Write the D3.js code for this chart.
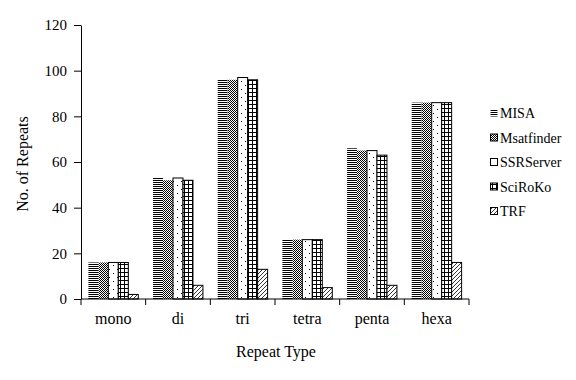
<!DOCTYPE html>
<html><head><meta charset="utf-8">
<script src="https://cdn.jsdelivr.net/npm/d3@7"></script>
<style>body{margin:0;background:#fff}svg text{font-family:"Liberation Serif","Times New Roman",serif !important;fill:#000}</style>
</head><body>
<svg id="c" width="576" height="380" font-family="Liberation Serif"></svg>
<script>
const categories = ["mono","di","tri","tetra","penta","hexa"];
const seriesNames = ["MISA","Msatfinder","SSRServer","SciRoKo","TRF"];
const MISA       = [16, 53, 96, 26, 66, 86];
const Msatfinder = [16, 52, 96, 26, 65, 86];
const SSRServer  = [16, 53, 97, 26, 65, 86];
const SciRoKo    = [16, 52, 96, 26, 63, 86];
const TRF        = [2, 6, 13, 5, 6, 16];
const yTicks = [0,20,40,60,80,100,120];
const seriesValues = [MISA, Msatfinder, SSRServer, SciRoKo, TRF];

(function(){
const FF = "'Liberation Serif', 'Times New Roman', serif";
const svg = d3.select("#c");
const defs = svg.append("defs");
const p1 = defs.append("pattern").attr("id","pMISA").attr("patternUnits","userSpaceOnUse").attr("width",4).attr("height",2);
p1.append("rect").attr("width",4).attr("height",2).attr("fill","#fff");
p1.append("rect").attr("width",4).attr("height",1).attr("fill","#000");
const p2 = defs.append("pattern").attr("id","pMsat").attr("patternUnits","userSpaceOnUse").attr("width",2).attr("height",2);
p2.append("rect").attr("width",2).attr("height",2).attr("fill","#fff");
p2.append("rect").attr("width",1).attr("height",1).attr("fill","#000");
p2.append("rect").attr("x",1).attr("y",1).attr("width",1).attr("height",1).attr("fill","#000");
const p3 = defs.append("pattern").attr("id","pSSR").attr("patternUnits","userSpaceOnUse").attr("width",8).attr("height",8);
p3.append("rect").attr("width",8).attr("height",8).attr("fill","#fff");
p3.append("rect").attr("x",1).attr("y",1).attr("width",1).attr("height",1).attr("fill","#000");
p3.append("rect").attr("x",5).attr("y",5).attr("width",1).attr("height",1).attr("fill","#000");
const p4 = defs.append("pattern").attr("id","pSci").attr("patternUnits","userSpaceOnUse").attr("width",4).attr("height",4);
p4.append("rect").attr("width",4).attr("height",4).attr("fill","#fff");
p4.append("rect").attr("width",4).attr("height",1).attr("fill","#000");
p4.append("rect").attr("width",1).attr("height",4).attr("fill","#000");
const p5 = defs.append("pattern").attr("id","pTRF").attr("patternUnits","userSpaceOnUse").attr("width",4).attr("height",4);
p5.append("rect").attr("width",4).attr("height",4).attr("fill","#fff");
p5.append("path").attr("d","M-1,1 L1,-1 M0,4 L4,0 M3,5 L5,3").attr("stroke","#000").attr("stroke-width",0.8);
const fills = ["url(#pMISA)","url(#pMsat)","url(#pSSR)","url(#pSci)","url(#pTRF)"];
const strokes = [null, null, "#000", "#000", "#000"];
const legendStrokes = [null, "#000", "#000", "#000", "#000"];

const L = 81, R = 469, T = 25, B = 299;
const x = d3.scaleBand().domain(categories).range([L, R]).padding(0);
const xs = d3.scaleBand().domain(seriesNames).range([0, x.bandwidth()]).paddingInner(0).paddingOuter(0.74);
const y = d3.scaleLinear().domain([0,120]).range([B, T]);

categories.forEach((c, ci) => {
  seriesNames.forEach((s, si) => {
    const v = seriesValues[si][ci];
    svg.append("rect")
      .attr("x", x(c) + xs(s))
      .attr("y", y(v))
      .attr("width", xs.bandwidth())
      .attr("height", y(0) - y(v))
      .attr("fill", fills[si])
      .attr("stroke", strokes[si] || "none")
      .attr("stroke-width", 1);
  });
});

const ya = svg.append("g").attr("transform",`translate(${L},0)`)
  .call(d3.axisLeft(y).tickValues(yTicks).tickSize(7).tickSizeOuter(0).tickPadding(7));
ya.attr("font-family", FF).attr("font-size", 15);
ya.select(".domain").attr("stroke","#000");
ya.selectAll("line").attr("stroke","#000");
ya.selectAll("text").style("font-size","15px").style("font-family",FF);

const xa = svg.append("g").attr("transform",`translate(0,${B})`);
xa.append("line").attr("x1",L).attr("x2",R).attr("stroke","#000");
const bounds = categories.map(c => x(c)).concat([x(categories[categories.length-1]) + x.bandwidth()]);
xa.selectAll("line.tk").data(bounds).enter().append("line").attr("class","tk")
  .attr("x1",d=>d).attr("x2",d=>d).attr("y1",0).attr("y2",6).attr("stroke","#000");
xa.selectAll("text").data(categories).enter().append("text")
  .attr("x", d => x(d) + x.bandwidth()/2).attr("y", 25)
  .attr("text-anchor","middle").style("font-size","16px").style("font-family",FF).text(d=>d);

svg.append("text").attr("x", 276).attr("y", 357).attr("text-anchor","middle").style("font-size","16px").style("font-family",FF).text("Repeat Type");
svg.append("text").attr("transform","translate(28,164) rotate(-90)").attr("text-anchor","middle").style("font-size","16px").style("font-family",FF).text("No. of Repeats");

const lg = svg.append("g");
seriesNames.forEach((s, i) => {
  const cy = 113 + i*24.5;
  lg.append("rect").attr("x",490.5).attr("y",cy-3.5).attr("width",7).attr("height",7)
    .attr("fill",fills[i]).attr("stroke",legendStrokes[i] || "none").attr("stroke-width",1);
  lg.append("text").attr("x",500).attr("y",cy+5).style("font-size","14px").style("font-family",FF).text(s);
});
})();
</script>
</body></html>
